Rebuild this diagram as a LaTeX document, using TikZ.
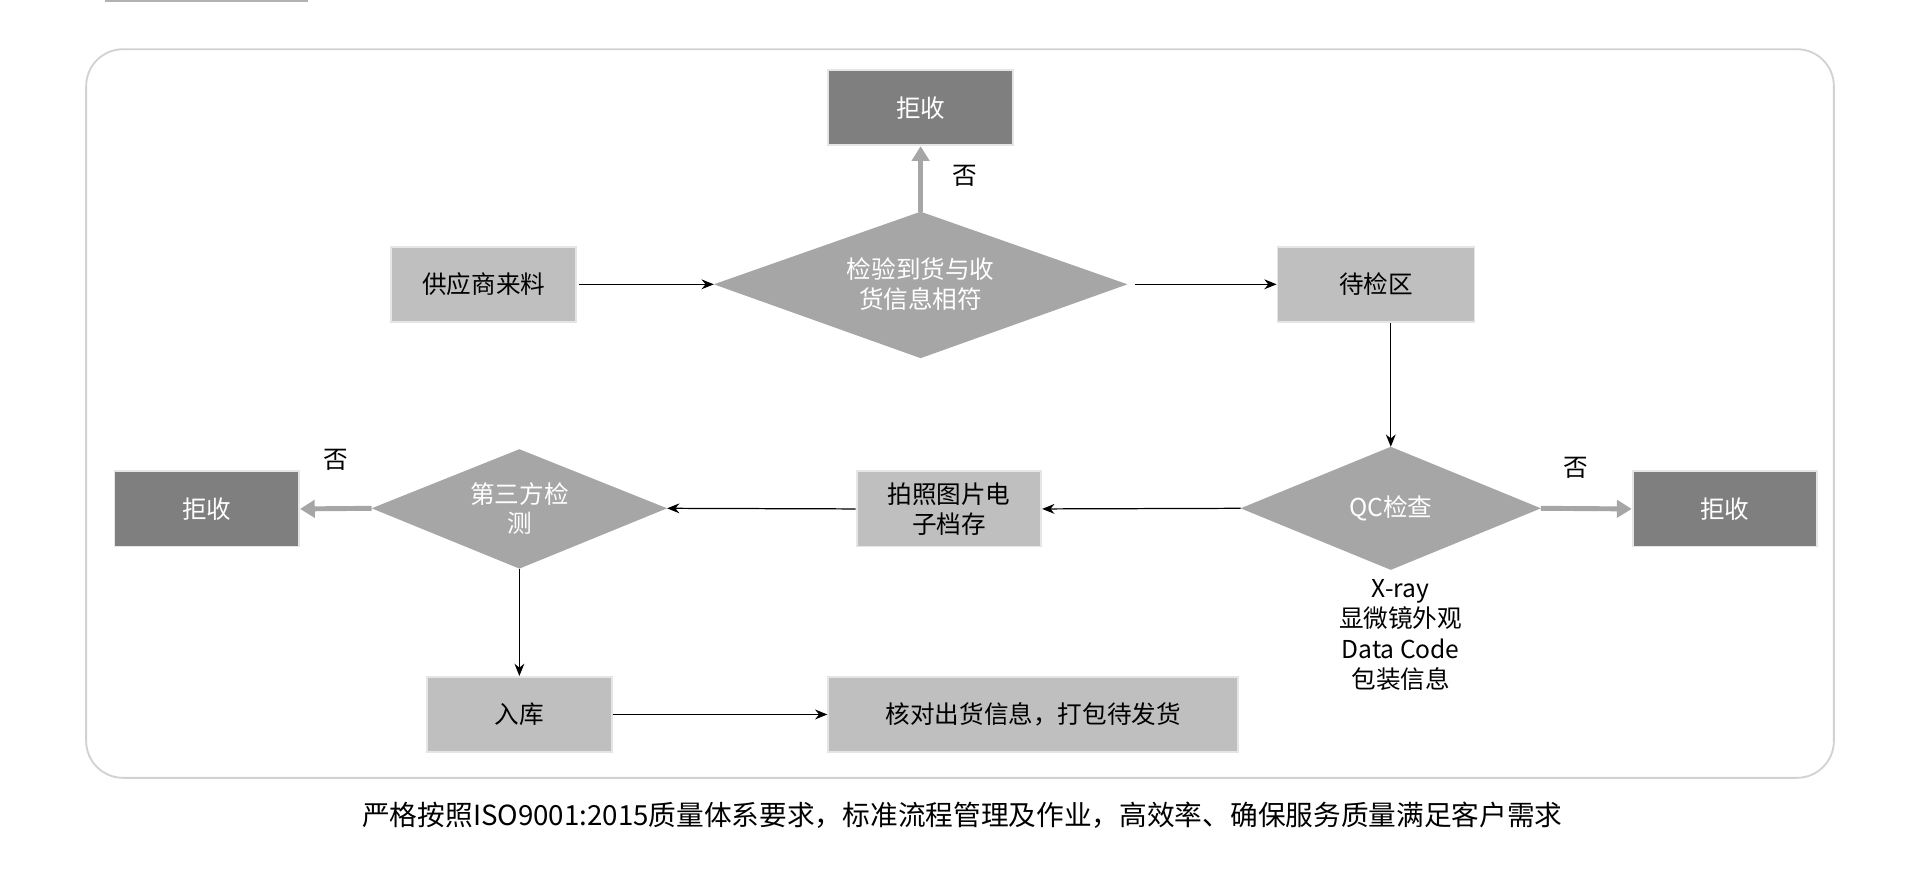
\documentclass[tikz,border=0pt]{standalone}
\usepackage{fontspec}
\setmainfont{Noto Sans CJK SC}
\usetikzlibrary{shapes.geometric,arrows.meta}
\definecolor{dk}{HTML}{7F7F7F}
\definecolor{lt}{HTML}{BFBFBF}
\definecolor{md}{HTML}{A6A6A6}
\definecolor{gar}{HTML}{A6A6A6}
\begin{document}
\begin{tikzpicture}[x=1pt,y=-1pt,
  lbox/.style={draw=white!90!black,line width=1.5pt,fill=lt,minimum width=150pt,minimum height=61pt,font=\fontsize{20}{24}\selectfont,inner sep=0pt},
  dbox/.style={draw=white!90!black,line width=1.5pt,fill=dk,text=white,minimum width=150pt,minimum height=61pt,font=\fontsize{20}{24}\selectfont,inner sep=0pt},
  dtext/.style={text=white,align=center,font=\fontsize{20}{24}\selectfont},
  blk/.style={-{Stealth[length=10pt,width=8pt]},line width=1pt},
  gry/.style={-{Triangle[length=12pt,width=14pt]},line width=4pt,draw=gar,color=gar},
  lab/.style={font=\fontsize{20}{24}\selectfont}]
\useasboundingbox (0,0) rectangle (1560,712);
\fill[white] (0,0) rectangle (1560,712);
\fill[gray!60] (85,-10) rectangle (250,2);
\draw[draw=gray!35,line width=1.5pt,rounded corners=30pt] (70,40) rectangle (1490,632);
% diamonds
\coordinate (d1w) at (580,231); \coordinate (d1e) at (916,231);
\coordinate (d1n) at (748,172); \coordinate (d1s) at (748,291);
\fill[md] (d1w) -- (d1n) -- (d1e) -- (d1s) -- cycle;
\node[dtext] (d1) at (748,231) {检验到货与收\\货信息相符};
\coordinate (qcw) at (1008,413); \coordinate (qce) at (1252,413);
\coordinate (qcn) at (1130,363); \coordinate (qcs) at (1130,463);
\fill[md] (qcw) -- (qcn) -- (qce) -- (qcs) -- cycle;
\node[dtext] (qc) at (1130,413) {QC检查};
\coordinate (d3w) at (302,413); \coordinate (d3e) at (542,413);
\coordinate (d3n) at (422,365); \coordinate (d3s) at (422,462);
\fill[md] (d3w) -- (d3n) -- (d3e) -- (d3s) -- cycle;
\node[dtext] (d3) at (422,413) {第三方检\\测};
\node[dbox] (rt) at (748,87.5) {拒收};
\node[lbox] (src) at (393,231) {供应商来料};
\node[lbox,minimum width=160pt] (wait) at (1118,231) {待检区};
\node[dbox] (rr) at (1401.5,413.5) {拒收};
\node[lbox,align=center] (photo) at (771,413.5) {拍照图片电\\子档存};
\node[dbox] (rl) at (168,413.5) {拒收};
\node[lbox] (in) at (422,580.5) {入库};
\node[lbox,minimum width=333pt] (chk) at (839.5,580.5) {核对出货信息，打包待发货};
\node[lab,align=center,font=\fontsize{20}{24.5}\selectfont] (qct) at (1138,516) {X-ray\\显微镜外观\\Data Code\\包装信息};
\node[lab] (n1) at (784,143) {否};
\node[lab] (n2) at (1280,380) {否};
\node[lab] (n3) at (273,374) {否};
\node[font=\fontsize{22.5}{26}\selectfont] (foot) at (782,662) {严格按照ISO9001:2015质量体系要求，标准流程管理及作业，高效率、确保服务质量满足客户需求};
\draw[blk] (src.east) ++(2,0) -- (d1w);
\draw[blk] (d1e) ++(6,0) -- (wait.west);
\draw[blk] (wait.south -| qcn) -- (qcn);
\draw[blk] (qcw) -- (photo.east);
\draw[blk] (photo.west) -- (d3e);
\draw[blk] (d3s) -- (in.north);
\draw[blk] (in.east) -- (chk.west);
\draw[gry] (d1n) -- (rt.south);
\draw[gry] (qce) -- (rr.west);
\draw[gry] (d3w) -- (rl.east);
\end{tikzpicture}
\end{document}
